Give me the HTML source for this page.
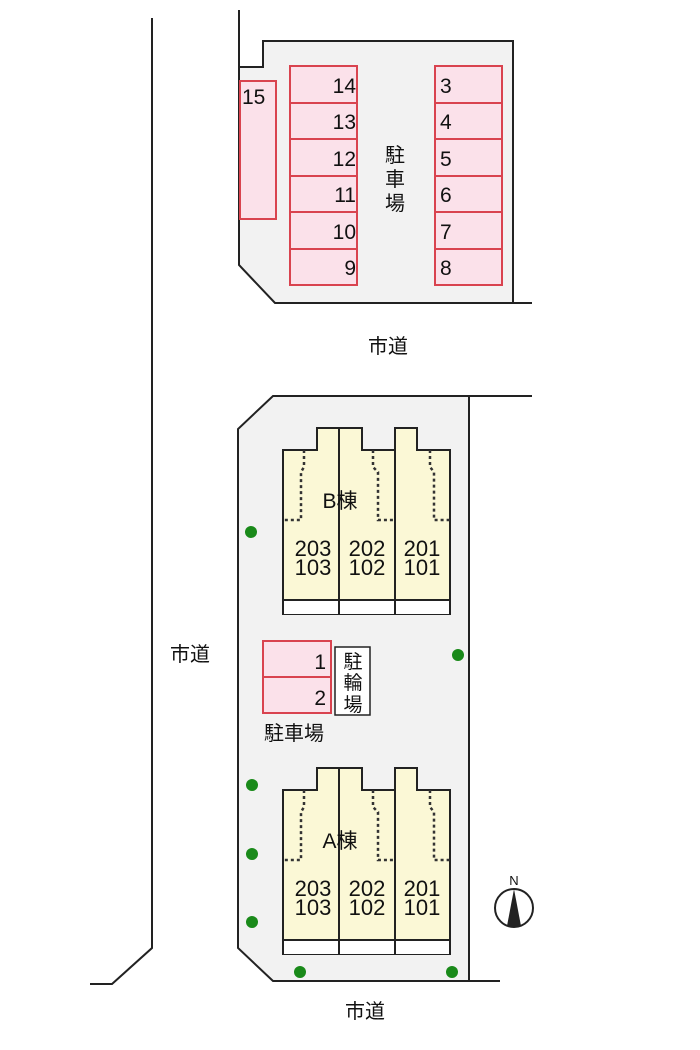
<!DOCTYPE html>
<html><head><meta charset="utf-8"><style>
html,body{margin:0;padding:0;background:#fff;}
svg{display:block;}
text{font-family:"Liberation Sans","Noto Sans CJK JP",sans-serif;fill:#111;}
</style></head><body>
<svg width="700" height="1050" viewBox="0 0 700 1050" xmlns="http://www.w3.org/2000/svg">
<defs>
<g id="bld">
  <path d="M283,450 H317 V428 H362 V450 H395 V428 H417 V450 H450 V614 H283 Z" fill="#fbf8d6" stroke="#222" stroke-width="2"/>
  <rect x="284" y="600" width="165" height="14" fill="#fff"/>
  <line x1="283" y1="600" x2="450" y2="600" stroke="#222" stroke-width="2"/>
  <line x1="339" y1="428" x2="339" y2="614" stroke="#222" stroke-width="2"/>
  <line x1="395" y1="450" x2="395" y2="614" stroke="#222" stroke-width="2"/>
  <g fill="none" stroke="#333" stroke-width="2.5" stroke-dasharray="3,3">
    <path d="M304,450 V467 L301,472 V520 H283"/>
    <path d="M373,450 V467 L378,472 V520 H394"/>
    <path d="M430,450 V467 L434,472 V520 H450"/>
  </g>
  <g font-size="22" text-anchor="middle">
    <text x="313" y="556">203</text><text x="313" y="575">103</text>
    <text x="367" y="556">202</text><text x="367" y="575">102</text>
    <text x="422" y="556">201</text><text x="422" y="575">101</text>
  </g>
</g>
</defs>

<path d="M152,18 V948 L112,984 H90" fill="none" stroke="#222" stroke-width="2"/>

<path d="M263,41 H513 V303 H275 L239,265 V67 H263 Z" fill="#f2f2f2" stroke="none"/>
<path d="M239,10 V265 L275,303 H532" fill="none" stroke="#222" stroke-width="2"/>
<path d="M239,67 H263 V41 H513 V303" fill="none" stroke="#222" stroke-width="2"/>

<g fill="#fbe1ea" stroke="#d9434f" stroke-width="2">
  <rect x="240" y="81" width="36" height="138"/>
  <rect x="290" y="66" width="67" height="219"/>
  <rect x="435" y="66" width="67" height="219"/>
</g>
<g stroke="#d9434f" stroke-width="2">
  <line x1="290" y1="103" x2="357" y2="103"/><line x1="290" y1="139" x2="357" y2="139"/>
  <line x1="290" y1="176" x2="357" y2="176"/><line x1="290" y1="212" x2="357" y2="212"/>
  <line x1="290" y1="249" x2="357" y2="249"/>
  <line x1="435" y1="103" x2="502" y2="103"/><line x1="435" y1="139" x2="502" y2="139"/>
  <line x1="435" y1="176" x2="502" y2="176"/><line x1="435" y1="212" x2="502" y2="212"/>
  <line x1="435" y1="249" x2="502" y2="249"/>
</g>
<g font-size="21">
  <text x="242" y="104">15</text>
  <g text-anchor="end">
    <text x="356" y="93">14</text><text x="356" y="129">13</text><text x="356" y="166">12</text>
    <text x="356" y="202">11</text><text x="356" y="239">10</text><text x="356" y="275">9</text>
  </g>
  <text x="440" y="93">3</text><text x="440" y="129">4</text><text x="440" y="166">5</text>
  <text x="440" y="202">6</text><text x="440" y="239">7</text><text x="440" y="275">8</text>
</g>
<g font-size="20" text-anchor="middle">
  <text x="395" y="162">駐</text><text x="395" y="186">車</text><text x="395" y="210">場</text>
</g>
<text x="388" y="353" font-size="20" text-anchor="middle">市道</text>

<path d="M273,396 H469 V981 H273 L238,948 V429 Z" fill="#f2f2f2"/>
<path d="M532,396 H273 L238,429 V948 L273,981 H500" fill="none" stroke="#222" stroke-width="2"/>
<line x1="469" y1="396" x2="469" y2="981" stroke="#222" stroke-width="2"/>

<use href="#bld"/>
<text x="340" y="508" font-size="21" text-anchor="middle">B棟</text>
<use href="#bld" transform="translate(0,340)"/>
<text x="340" y="848" font-size="21" text-anchor="middle">A棟</text>

<rect x="263" y="641" width="68" height="72" fill="#fbe1ea" stroke="#d9434f" stroke-width="2"/>
<line x1="263" y1="677" x2="331" y2="677" stroke="#d9434f" stroke-width="2"/>
<text x="326" y="669" font-size="21" text-anchor="end">1</text>
<text x="326" y="705" font-size="21" text-anchor="end">2</text>
<rect x="335" y="647" width="35" height="68" fill="#fff" stroke="#222" stroke-width="1.5"/>
<g font-size="19" text-anchor="middle">
  <text x="353" y="668">駐</text><text x="353" y="689">輪</text><text x="353" y="711">場</text>
</g>
<text x="294" y="740" font-size="20" text-anchor="middle">駐車場</text>

<g fill="#1a8a1a">
  <circle cx="251" cy="532" r="6"/><circle cx="458" cy="655" r="6"/>
  <circle cx="252" cy="785" r="6"/><circle cx="252" cy="854" r="6"/>
  <circle cx="252" cy="922" r="6"/><circle cx="300" cy="972" r="6"/>
  <circle cx="452" cy="972" r="6"/>
</g>

<text x="514" y="885" font-size="13" text-anchor="middle">N</text>
<circle cx="514" cy="908" r="19" fill="#fff" stroke="#222" stroke-width="2"/>
<path d="M514,889 L507,926 L521,926 Z" fill="#222"/>

<text x="190" y="661" font-size="20" text-anchor="middle">市道</text>
<text x="365" y="1018" font-size="20" text-anchor="middle">市道</text>
</svg>
</body></html>
